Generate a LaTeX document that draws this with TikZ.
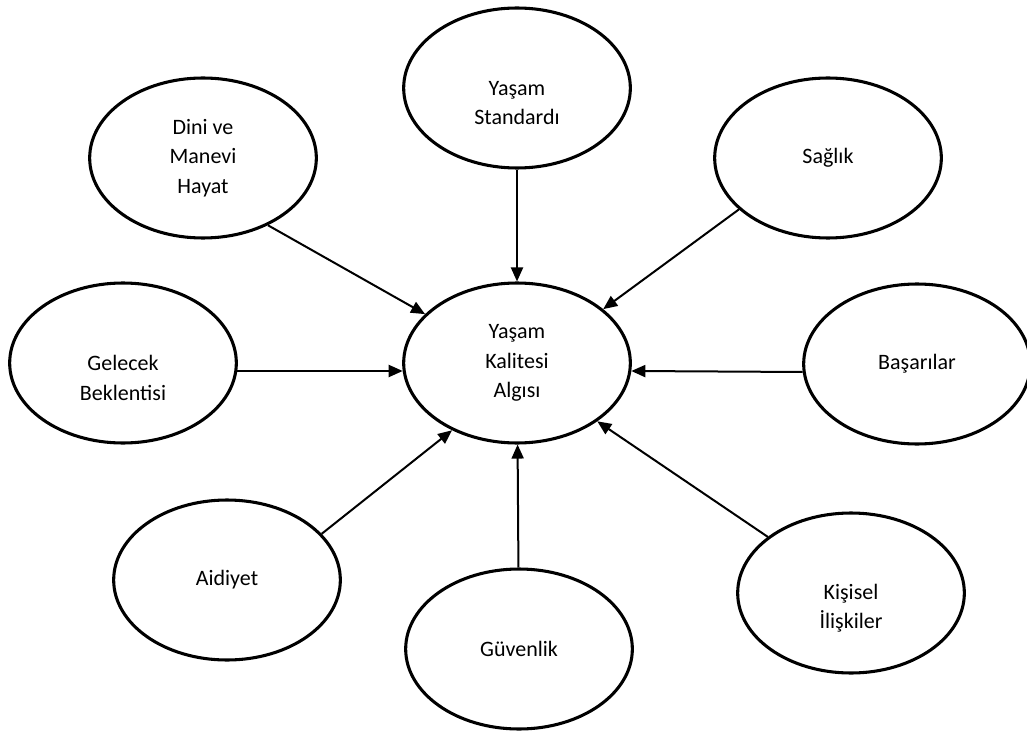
\documentclass[tikz,border=0pt]{standalone}
\usepackage{fontspec}
\setmainfont{Carlito}
\usepackage{tikz}
\usetikzlibrary{positioning,arrows.meta,shapes.geometric}

\begin{document}
\begin{tikzpicture}[
        x=0.75pt, y=-0.75pt,
        oval/.style={ellipse, draw, line width=2.3pt, minimum width=170pt, minimum height=120pt, inner sep=0pt, align=center, font=\fontsize{16.5}{22}\selectfont},
        lowtext/.style={align=center, font=\fontsize{16.5}{22}\selectfont, yshift=-11.25pt},
        arrow/.style={-{Triangle[length=10.5pt,width=9pt]}, line width=1.5pt}
    ]
    \useasboundingbox (0,0) rectangle (1027,734);

    % Central node
    \node[oval] (merkez) at (517,363) {Yaşam\\Kalitesi\\Algısı};

    % Upper row
    \node[oval, label={[lowtext]center:Yaşam\\Standardı}] (standart) at (517,88) {};
    \node[oval] (dini) at (203,158) {Dini ve\\Manevi\\Hayat};
    \node[oval] (saglik) at (828,158) {Sağlık};

    % Middle row
    \node[oval, label={[lowtext]center:Gelecek\\Beklentisi}] (gelecek) at (123,363) {};
    \node[oval] (basari) at (917,364) {Başarılar};

    % Lower row
    \node[oval] (aidiyet) at (227,580) {Aidiyet};
    \node[oval] (guvenlik) at (519,649) {Güvenlik};
    \node[oval, label={[lowtext]center:Kişisel\\İlişkiler}] (kisisel) at (851,593) {};

    % Connect everything
    \draw[arrow] (dini.-46) -- (merkez.152);
    \draw[arrow] (standart) -- (merkez);
    \draw[arrow] (saglik.210) -- (merkez.32);
    \draw[arrow] (gelecek.-4) -- (merkez.184);
    \draw[arrow] (basari.184) -- (merkez.-4);
    \draw[arrow] (aidiyet.26) -- (merkez.226);
    \draw[arrow] (guvenlik) -- (merkez);
    \draw[arrow] (kisisel.146) -- (merkez.-36);
\end{tikzpicture}
\end{document}
